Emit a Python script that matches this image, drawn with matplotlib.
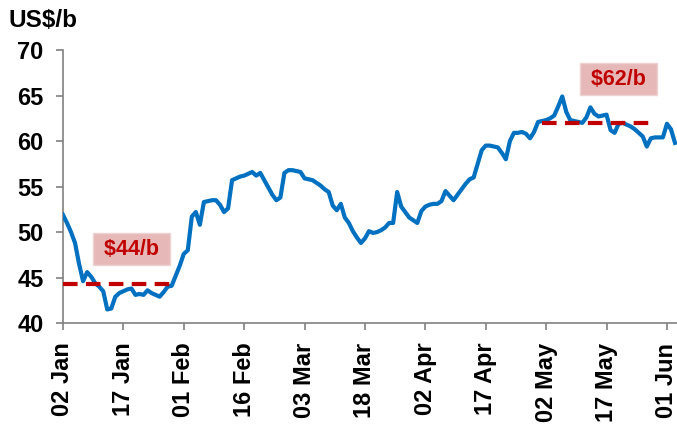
import matplotlib
matplotlib.use("Agg")
import matplotlib.pyplot as plt
import numpy as np
import pandas as pd

plt.rcParams['font.family'] = ['Liberation Sans', 'DejaVu Sans']
plt.rcParams['font.weight'] = 'bold'

# daily price, US$/b (02 Jan onwards)
start_date = '2019-01-02'
price = [51.9, 51.0, 50.0, 48.8, 46.5, 44.6, 45.6, 45.1, 44.4, 44.0,
         43.5, 41.5, 41.6, 42.9, 43.3, 43.5, 43.7, 43.8, 43.1, 43.2,
         43.1, 43.6, 43.3, 43.1, 42.9, 43.4, 44.0, 44.1, 45.2, 46.3,
         47.6, 48.0, 51.7, 52.2, 50.8, 53.3, 53.4, 53.5, 53.5, 53.0,
         52.2, 52.6, 55.7, 55.9, 56.1, 56.2, 56.4, 56.6, 56.2, 56.5,
         55.7, 54.9, 54.1, 53.5, 53.8, 56.5, 56.8, 56.8, 56.7, 56.6,
         55.9, 55.8, 55.7, 55.4, 55.1, 54.7, 54.4, 52.9, 52.4, 53.1,
         51.6, 51.0, 50.1, 49.4, 48.8, 49.3, 50.1, 49.9, 50.0, 50.2,
         50.5, 51.0, 51.0, 54.4, 52.8, 52.2, 51.6, 51.3, 51.0, 52.3,
         52.8, 53.0, 53.1, 53.1, 53.4, 54.5, 54.0, 53.5, 54.1, 54.7,
         55.3, 55.8, 56.0, 57.5, 59.0, 59.5, 59.5, 59.4, 59.3, 58.7,
         58.0, 60.0, 60.9, 60.9, 61.0, 60.8, 60.3, 61.0, 62.1, 62.2,
         62.3, 62.5, 62.8, 63.8, 64.9, 63.2, 62.3, 62.2, 62.1, 62.0,
         62.6, 63.7, 63.0, 62.7, 62.8, 62.9, 61.2, 60.9, 61.9, 62.0,
         61.8, 61.6, 61.3, 60.9, 60.5, 59.4, 60.3, 60.4, 60.4, 60.4,
         61.9, 61.3, 59.8]
dates = pd.date_range(start_date, periods=len(price), freq='D')

# average levels
avg_levels = [44.3, 62.0]
avg_start = ['2019-01-02', '2019-05-01']
avg_end = ['2019-01-30', '2019-05-29']
avg_labels = ['$44/b', '$62/b']
label_pos = [('2019-01-19', 48.1), ('2019-05-20', 66.8)]

tick_labels = ['02 Jan', '17 Jan', '01 Feb', '16 Feb', '03 Mar', '18 Mar',
               '02 Apr', '17 Apr', '02 May', '17 May', '01 Jun']
tick_dates = pd.date_range(start_date, periods=len(tick_labels), freq='15D')

blue = '#0070C0'
red = '#C00000'
grey = '#808080'

fig = plt.figure(figsize=(6.77, 4.24), dpi=100)
ax = fig.add_axes([0.093, 0.238, 0.907, 0.644])

ax.plot(dates, price, color=blue, lw=3, solid_joinstyle='round', zorder=3)

for lvl, s, e in zip(avg_levels, avg_start, avg_end):
    ax.plot(pd.to_datetime([s, e]), [lvl, lvl], color=red, lw=3,
            dashes=(3.5, 2), zorder=4)

for txt, (d, v) in zip(avg_labels, label_pos):
    ax.text(pd.Timestamp(d), v, ' ' + txt + ' ', color=red, fontsize=15.5,
            fontweight='bold', ha='center', va='center', zorder=5,
            bbox=dict(boxstyle='square,pad=0.25', facecolor='#E6B9B8',
                      edgecolor='#EED3D2', lw=1))

ax.set_ylim(40, 70)
ax.set_yticks(np.arange(40, 71, 5))
ax.set_xlim(pd.Timestamp('2019-01-02'), pd.Timestamp('2019-06-03 12:00'))
ax.set_xticks(tick_dates)
ax.set_xticklabels(tick_labels, rotation=90)

for side in ['top', 'right']:
    ax.spines[side].set_visible(False)
for side in ['left', 'bottom']:
    ax.spines[side].set_color(grey)
    ax.spines[side].set_linewidth(1.2)

ax.tick_params(axis='both', labelsize=17, colors=grey, labelcolor='black')
ax.tick_params(axis='y', length=5, width=1.2, pad=9)
ax.tick_params(axis='x', length=5, width=1.2, pad=9)

fig.text(0.012, 0.978, 'US$/b', fontsize=17.5, fontweight='bold', ha='left', va='top')

fig.savefig('out.png', dpi=100)
